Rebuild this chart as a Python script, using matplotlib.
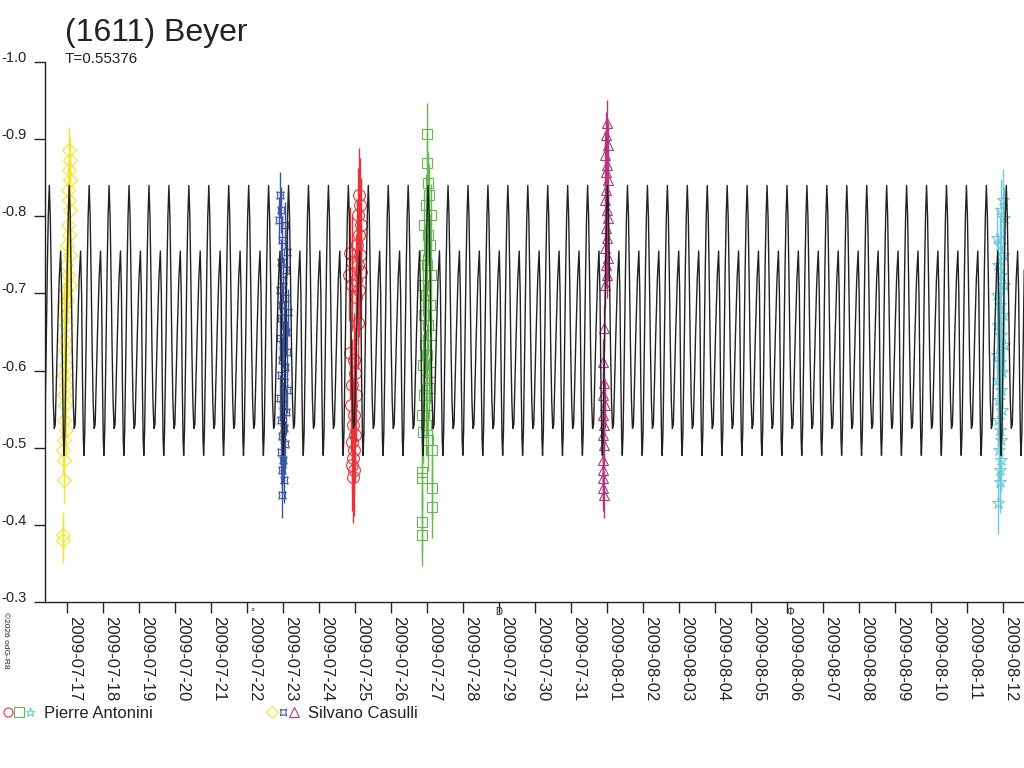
import numpy as np
import pandas as pd
import matplotlib
matplotlib.use('Agg')
import matplotlib.pyplot as plt
from matplotlib.lines import Line2D
from matplotlib.legend_handler import HandlerTuple

plt.rcParams['font.family'] = ['Liberation Sans', 'DejaVu Sans']

# time axis: days since 2009-07-17 00:00 UT
tick_dates = pd.date_range('2009-07-17', '2009-08-12', freq='D')
tick_labels = [d.strftime('%Y-%m-%d') for d in tick_dates]
tick_days = np.arange(len(tick_dates))

# model lightcurve, one period, repeated with T
period = 0.55376
epoch = -0.492
shape_phase = [0.00, 0.05, 0.10, 0.15, 0.20, 0.25, 0.30, 0.35, 0.42, 0.50,
               0.57, 0.62, 0.67, 0.71, 0.74, 0.78, 0.84, 0.90, 0.95]
shape_mag = [-0.84, -0.80, -0.72, -0.63, -0.56, -0.525, -0.53, -0.58, -0.65, -0.72,
             -0.755, -0.70, -0.58, -0.51, -0.49, -0.52, -0.62, -0.73, -0.80]
cycles = np.arange(-2, 51)

# observations (days since 2009-07-17, magnitude)
yel_t = [0.056, 0.083, 0.056, 0.083, 0.028, 0.056, 0.083, 0.028, 0.056, 0.0,
         0.083, -0.028, 0.028, 0.083, -0.028, 0.0, -0.083, -0.056, -0.028, -0.083,
         -0.056, -0.028, -0.083, -0.028, -0.083, -0.056, -0.083, -0.028, -0.083, -0.111,
         -0.083, -0.083, -0.111, -0.111]
yel_m = [-0.886, -0.873, -0.860, -0.847, -0.834, -0.821, -0.808, -0.789, -0.776, -0.763,
         -0.750, -0.737, -0.724, -0.711, -0.704, -0.691, -0.685, -0.672, -0.659, -0.640,
         -0.627, -0.607, -0.594, -0.581, -0.568, -0.555, -0.536, -0.523, -0.510, -0.497,
         -0.484, -0.458, -0.387, -0.380]

blue_t = [5.917, 5.944, 5.889, 6.056, 5.972, 6.111, 5.944, 6.083, 6.000, 5.917,
          6.056, 5.972, 6.139, 5.944, 6.028, 6.083, 5.917, 6.000, 6.111, 5.972,
          6.056, 5.944, 6.028, 6.111, 5.917, 6.000, 6.083, 5.944, 6.028, 5.972,
          6.056, 5.944, 6.000, 5.972, 6.028, 5.972]
blue_m = [-0.828, -0.808, -0.795, -0.789, -0.769, -0.754, -0.741, -0.730, -0.717, -0.704,
          -0.694, -0.685, -0.676, -0.668, -0.659, -0.650, -0.642, -0.633, -0.624, -0.614,
          -0.605, -0.594, -0.585, -0.575, -0.564, -0.555, -0.546, -0.536, -0.526, -0.515,
          -0.505, -0.494, -0.484, -0.471, -0.458, -0.439]

red_t = [8.111, 8.139, 8.083, 8.167, 8.111, 8.056, 8.139, 7.861, 7.917, 8.083,
         8.167, 7.833, 8.028, 7.917, 8.111, 8.028, 8.083, 7.861, 7.972, 8.000,
         7.917, 8.028, 7.889, 7.972, 7.944, 8.000, 7.917, 7.972, 7.944, 7.917,
         7.972, 7.944]
red_m = [-0.828, -0.815, -0.802, -0.789, -0.776, -0.763, -0.750, -0.752, -0.741, -0.737,
         -0.728, -0.724, -0.717, -0.711, -0.704, -0.695, -0.662, -0.623, -0.614, -0.597,
         -0.581, -0.568, -0.555, -0.542, -0.529, -0.516, -0.507, -0.497, -0.487, -0.478,
         -0.471, -0.462]

green_t = [10.000, 10.000, 10.028, 10.056, 9.972, 10.111, 9.917, 10.028, 10.083, 9.944,
           10.000, 10.111, 9.889, 9.972, 10.083, 9.917, 10.028, 10.111, 9.944, 10.000,
           9.889, 10.083, 9.972, 10.056, 9.917, 10.000, 9.861, 9.972, 9.889, 10.028,
           10.139, 9.861, 9.861, 10.139, 10.139, 9.861, 9.861]
green_m = [-0.907, -0.869, -0.843, -0.828, -0.815, -0.802, -0.789, -0.776, -0.763, -0.750,
           -0.737, -0.724, -0.711, -0.698, -0.685, -0.672, -0.659, -0.646, -0.633, -0.620,
           -0.607, -0.598, -0.588, -0.577, -0.568, -0.555, -0.542, -0.529, -0.520, -0.510,
           -0.497, -0.468, -0.461, -0.448, -0.423, -0.404, -0.387]

mag_t = [15.000, 14.972, 15.028, 14.944, 15.000, 14.972, 15.028, 14.972, 14.944, 15.000,
         15.028, 14.972, 15.000, 14.944, 15.028, 14.972, 15.000, 14.944, 14.917, 14.889,
         14.917, 14.889, 14.944, 14.889, 14.917, 14.889, 14.917, 14.889, 14.889, 14.889,
         14.889, 14.917]
mag_m = [-0.921, -0.905, -0.892, -0.879, -0.866, -0.857, -0.847, -0.834, -0.821, -0.808,
         -0.798, -0.785, -0.772, -0.759, -0.746, -0.737, -0.724, -0.711, -0.655, -0.611,
         -0.584, -0.568, -0.555, -0.542, -0.529, -0.516, -0.503, -0.484, -0.471, -0.461,
         -0.448, -0.439]

cyan_t = [26.000, 25.944, 26.028, 25.833, 25.917, 26.000, 25.861, 25.944, 26.028, 25.833,
          25.917, 26.000, 25.861, 25.944, 26.028, 25.833, 25.917, 25.972, 25.861, 25.944,
          25.889, 25.972, 25.861, 25.917, 25.944, 25.889, 25.944, 25.917, 25.917, 25.861]
cyan_m = [-0.821, -0.808, -0.798, -0.772, -0.763, -0.750, -0.737, -0.724, -0.711, -0.698,
          -0.685, -0.672, -0.659, -0.646, -0.633, -0.620, -0.611, -0.598, -0.588, -0.575,
          -0.562, -0.549, -0.536, -0.523, -0.510, -0.497, -0.484, -0.471, -0.456, -0.428]

session_err = [0.03, 0.03, 0.06, 0.04, 0.03, 0.04]

# moon phases near the axis
moon_days = [5.14, 12.0, 20.1]
moon_signs = ['\u00b0', 'D', '\u03a6']

fig = plt.figure(figsize=(10.24, 7.68), dpi=100)
ax = fig.add_axes([45 / 1024, 1 - 602 / 768, 1 - 45 / 1024, 540 / 768])

model_t = (epoch + (cycles[:, None] + np.array(shape_phase)[None, :]) * period).ravel()
model_m = np.tile(shape_mag, len(cycles))
ax.plot(model_t, model_m, color='#222222', lw=1.0, zorder=5)

sessions = [
    (yel_t, yel_m, 'D', '#F2E52B', 7),
    (blue_t, blue_m, (4, 1, 45), '#3A55A4', 7.5),
    (red_t, red_m, 'o', '#E8333B', 8.5),
    (green_t, green_m, 's', '#62B94D', 7),
    (mag_t, mag_m, '^', '#B5357F', 7),
    (cyan_t, cyan_m, '*', '#6BCBD8', 9),
]
for (t, m, mk, col, ms), err in zip(sessions, session_err):
    ax.errorbar(t, m, yerr=err, fmt='', marker=mk, linestyle='none', mfc='none',
                mec=col, ecolor=col, ms=ms, mew=0.8, elinewidth=1.0, capsize=0,
                zorder=3)

ax.set_xlim(-0.611, 26.58)
ax.set_ylim(-0.3, -1.0)

ax.set_yticks(np.arange(-1.0, -0.25, 0.1))
ax.set_yticklabels(['%.1f' % v for v in np.arange(-1.0, -0.25, 0.1)], va='baseline')
ax.set_xticks(tick_days)
ax.set_xticklabels(tick_labels, rotation=-90, ha='left', va='top')

ax.tick_params(axis='both', direction='out', length=8, width=1, colors='#222222',
               labelcolor='#222222')
ax.tick_params(axis='y', pad=5, labelsize=10.5)
ax.tick_params(axis='x', pad=2, labelsize=12)
for s in ['top', 'right']:
    ax.spines[s].set_visible(False)
for s in ['left', 'bottom']:
    ax.spines[s].set_color('#222222')
    ax.spines[s].set_linewidth(1)

for d, sign in zip(moon_days, moon_signs):
    ax.text(d, -0.293, sign, fontsize=7, ha='center', va='top', color='#222222',
            clip_on=False)

fig.text(65 / 1024, 1 - 41 / 768, '(1611) Beyer', fontsize=23, color='#222222',
         va='baseline', ha='left')
fig.text(65 / 1024, 1 - 63 / 768, 'T=0.55376', fontsize=11, color='#222222',
         va='baseline', ha='left')
fig.text(2 / 1024, 1 - 612 / 768, '\u00a92026 odG-R8', fontsize=6, rotation=-90,
         ha='left', va='top', color='#222222')

def keys(idx):
    return tuple(Line2D([], [], ls='none', marker=sessions[i][2], mfc='none',
                        mec=sessions[i][3], ms=6.5, mew=0.8) for i in idx)

for idx, name, x0 in [((2, 3, 5), 'Pierre Antonini', 2), ((0, 1, 4), 'Silvano Casulli', 266)]:
    fig.legend([keys(idx)], [name], loc='center left',
               bbox_to_anchor=(x0 / 1024, 1 - 713 / 768), frameon=False,
               handler_map={tuple: HandlerTuple(ndivide=None, pad=0.0)},
               handlelength=2.0, handletextpad=0.5, borderpad=0, borderaxespad=0,
               fontsize=12, labelcolor='#222222')

fig.savefig('out.png', dpi=100)
